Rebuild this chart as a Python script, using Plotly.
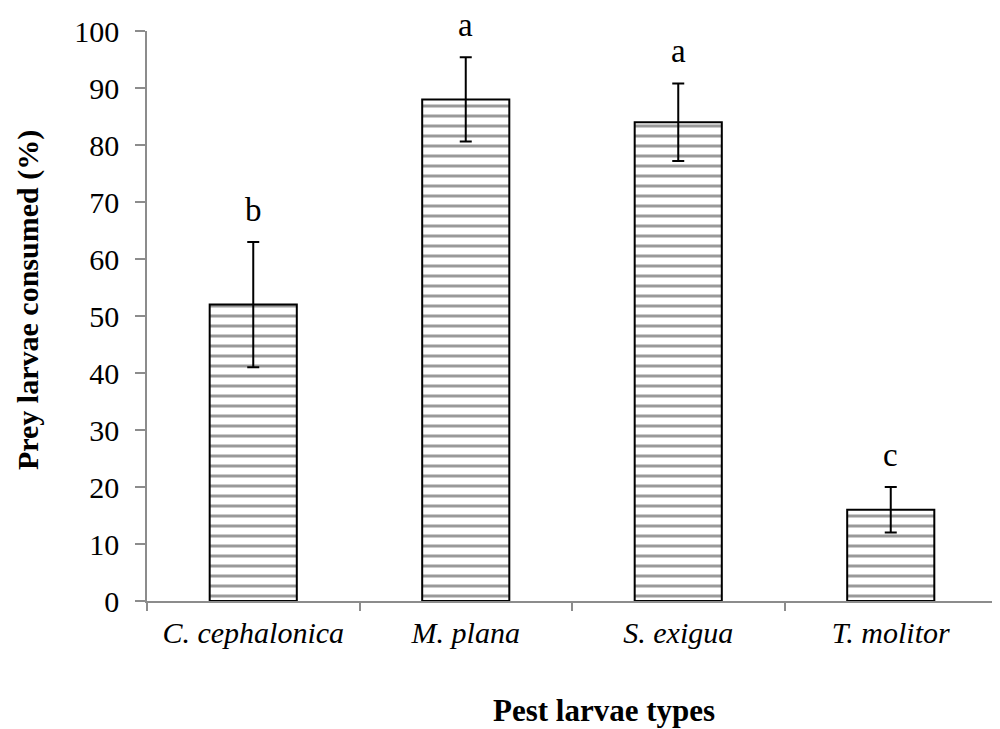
import plotly.graph_objects as go

# Data
pest_types = ["C. cephalonica", "M. plana", "S. exigua", "T. molitor"]
consumed_pct = [52, 88, 84, 16]
error_pct = [11, 7.4, 6.8, 4]
group_letters = ["b", "a", "a", "c"]

FONT = "Liberation Serif, Times New Roman, serif"
AXIS_GREY = "#8c8c8c"

fig = go.Figure(
    data=[go.Bar(
        x=pest_types,
        y=consumed_pct,
        width=0.41,
        marker=dict(
            color="white",
            line=dict(color="black", width=2),
            pattern=dict(shape="-", size=10, solidity=0.3,
                         fgcolor="#333333", bgcolor="white"),
        ),
        error_y=dict(type="data", array=error_pct, visible=True,
                     color="black", thickness=2, width=6),
        showlegend=False,
    )]
)

# significance letters above each error bar
for cat, val, err, letter in zip(pest_types, consumed_pct, error_pct, group_letters):
    fig.add_annotation(
        x=cat, y=val + err, text=letter, showarrow=False,
        yanchor="middle", yshift=32,
        font=dict(family=FONT, size=33, color="black"),
    )

# axis titles
fig.add_annotation(
    xref="paper", yref="paper", x=0.538, y=-0.192,
    text="<b>Pest larvae types</b>", showarrow=False,
    xanchor="center", yanchor="middle",
    font=dict(family=FONT, size=31, color="black"),
)
fig.add_annotation(
    xref="paper", yref="paper", x=-0.14, y=0.528,
    text="<b>Prey larvae consumed (%)</b>", showarrow=False,
    textangle=-90, xanchor="center", yanchor="middle",
    font=dict(family=FONT, size=30, color="black"),
)

# page body adds an 8px offset, so the figure is sized 992x721
fig.update_layout(
    width=992, height=721,
    paper_bgcolor="white", plot_bgcolor="white",
    margin=dict(l=139, r=3, t=23, b=128),
    font=dict(family=FONT, color="black", size=30),
    bargap=0.59,
    xaxis=dict(
        automargin=False,
        showline=True, linecolor=AXIS_GREY, linewidth=1.5,
        ticks="outside", tickson="boundaries", ticklen=8,
        tickcolor=AXIS_GREY, tickwidth=1.5,
        tickfont=dict(family=FONT, size=30, style="italic"),
        ticklabelstandoff=4,
        showgrid=False,
    ),
    yaxis=dict(
        automargin=False,
        range=[0, 100], dtick=10,
        showline=True, linecolor=AXIS_GREY, linewidth=1.5,
        ticks="outside", ticklen=10, tickcolor=AXIS_GREY, tickwidth=1.5,
        tickfont=dict(family=FONT, size=30),
        ticklabelstandoff=10,
        showgrid=False, zeroline=False,
    ),
)

fig.write_html("out.html")
